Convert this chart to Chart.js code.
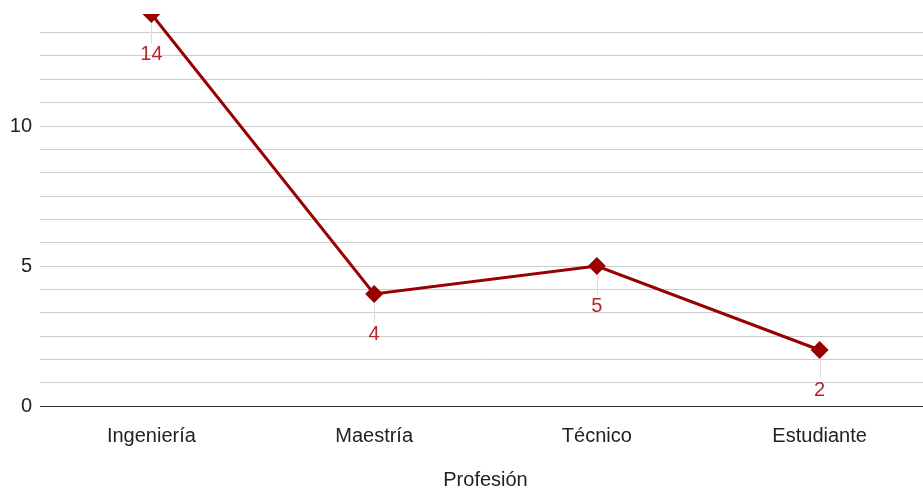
<!DOCTYPE html>
<html>
<head>
<meta charset="utf-8">
<script src="https://cdn.jsdelivr.net/npm/chart.js@4/dist/chart.umd.min.js"></script>
<style>
  html, body { margin: 0; padding: 0; background: #fff; overflow: hidden; }
  canvas { display: block; }
</style>
</head>
<body>
<canvas id="chart" width="940" height="494"></canvas>
<script>
const categories = ['Ingeniería', 'Maestría', 'Técnico', 'Estudiante'];
const counts = [14, 4, 5, 2];
const tickLabels = [0, 5, 10];
const yMax = 14;
const gridStep = 5 / 6; // five minor lines between labelled ticks

const lineColor = '#990000';
const labelColor = '#b3262b';
const fontFamily = "'Liberation Sans', Arial, sans-serif";

// value labels under each point, joined by a faint leader line
const pointLabels = {
  id: 'pointLabels',
  afterDatasetsDraw(chart) {
    const { ctx } = chart;
    const meta = chart.getDatasetMeta(0);
    ctx.save();
    meta.data.forEach((pt, i) => {
      const x = Math.round(pt.x);
      const y = pt.y;
      ctx.strokeStyle = '#dddddd';
      ctx.lineWidth = 1;
      ctx.beginPath();
      ctx.moveTo(x + 0.5, y + 9);
      ctx.lineTo(x + 0.5, y + 29);
      ctx.stroke();
      ctx.fillStyle = labelColor;
      ctx.font = '20px ' + fontFamily;
      ctx.textAlign = 'center';
      ctx.textBaseline = 'middle';
      ctx.fillText(String(counts[i]), pt.x, y + 40);
    });
    ctx.restore();
  }
};

new Chart(document.getElementById('chart'), {
  type: 'line',
  data: {
    labels: categories,
    datasets: [{
      data: counts,
      borderColor: lineColor,
      backgroundColor: lineColor,
      borderWidth: 3,
      tension: 0,
      pointStyle: 'rectRot',
      pointRadius: 9,
      pointBorderWidth: 0,
      pointHoverRadius: 9
    }]
  },
  options: {
    responsive: false,
    animation: false,
    layout: { padding: { top: 14, right: 0, bottom: 0, left: 0 } },
    plugins: {
      legend: { display: false },
      tooltip: { enabled: false }
    },
    scales: {
      x: {
        offset: true,
        grid: { display: false },
        border: { display: true, color: '#333333', width: 1 },
        ticks: { color: '#222', font: { family: fontFamily, size: 20 }, padding: 10, maxRotation: 0 },
        title: {
          display: true,
          text: 'Profesión',
          color: '#222',
          font: { family: fontFamily, size: 20 },
          padding: { top: 28, bottom: 2 }
        },
        afterFit(scale) {
          scale.height = 88;
          scale.paddingLeft = 0;
          scale.paddingRight = 0;
        }
      },
      y: {
        min: 0,
        max: yMax,
        border: { display: false },
        grid: { color: '#cccccc', lineWidth: 1, drawTicks: false },
        afterBuildTicks(scale) {
          const ticks = [];
          for (let v = 0; v < yMax - 1e-6; v += gridStep) ticks.push({ value: v });
          scale.ticks = ticks;
        },
        ticks: {
          autoSkip: false,
          color: '#222',
          font: { family: fontFamily, size: 20 },
          padding: 8,
          callback(value) {
            const hit = tickLabels.find(t => Math.abs(t - value) < 1e-6);
            return hit === undefined ? '' : String(hit);
          }
        },
        afterFit(scale) {
          scale.width = 40;
          scale.paddingTop = 0;
          scale.paddingBottom = 0;
        }
      }
    }
  },
  plugins: [pointLabels]
});
</script>
</body>
</html>
